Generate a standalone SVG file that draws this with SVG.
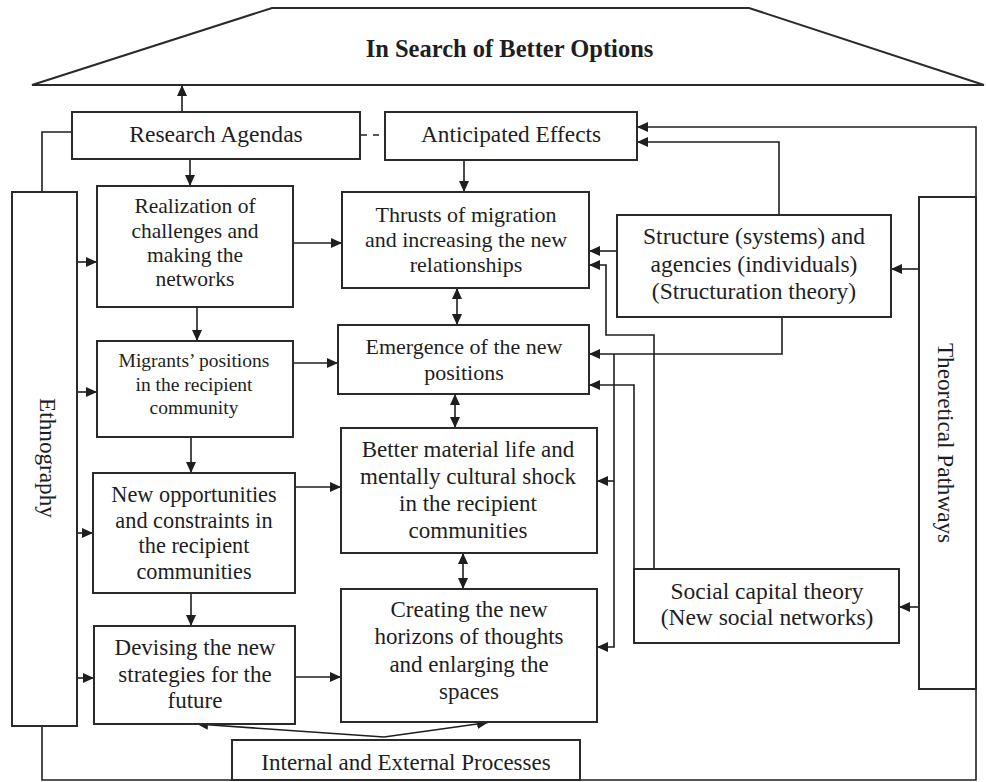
<svg xmlns="http://www.w3.org/2000/svg" width="986" height="782" viewBox="0 0 986 782">
<style>
.box{fill:#fff;stroke:#2a2a2a;stroke-width:2}
.t{font-family:"Liberation Serif","Times New Roman",serif;fill:#1e1e1e;text-anchor:middle}
.c{fill:none;stroke:#1e1e1e;stroke-width:1.6}
.a{marker-end:url(#ah)}
.d{marker-start:url(#ah);marker-end:url(#ah)}
</style>
<defs>
<marker id="ah" viewBox="0 0 11 10" refX="11" refY="5" markerWidth="11" markerHeight="10" markerUnits="userSpaceOnUse" orient="auto-start-reverse">
<path d="M0,0 L11,5 L0,10 z" fill="#1e1e1e"/>
</marker>
</defs>
<rect width="986" height="782" fill="#fff"/>

<g id="connectors">
<path class="c a" d="M182,112 V85"/>
<path class="c a" d="M190,159 V186"/>
<path class="c" d="M361,135 H385" stroke-dasharray="6 6"/>
<path class="c" d="M72,132 H42 V192"/>
<path class="c a" d="M464,160 V192"/>
<path class="c a" d="M42,726 V780 H976 V127 H637"/>
<path class="c a" d="M779,215 V142 H637"/>
<path class="c a" d="M919,269 H891"/>
<path class="c a" d="M919,607 H899"/>
<path class="c a" d="M617,251 H589"/>
<path class="c a" d="M654,569 V335 H606 V265 H589"/>
<path class="c a" d="M782,317 V354 H589"/>
<path class="c a" d="M614,354 V647 H597"/>
<path class="c a" d="M614,481 H597"/>
<path class="c a" d="M634,569 V385 H589"/>
<path class="c a" d="M77,262 H97"/>
<path class="c a" d="M77,392 H97"/>
<path class="c a" d="M77,533 H93"/>
<path class="c a" d="M77,678 H94"/>
<path class="c a" d="M293,243 H342"/>
<path class="c a" d="M293,363 H338"/>
<path class="c a" d="M295,487 H341"/>
<path class="c a" d="M295,677 H341"/>
<path class="c a" d="M197,307 V341"/>
<path class="c a" d="M191,437 V473"/>
<path class="c a" d="M191,593 V626"/>
<path class="c d" d="M457,288 V325"/>
<path class="c d" d="M455,394 V428"/>
<path class="c d" d="M463,553 V589"/>
<path class="c a" d="M384,737 L197,724"/>
<path class="c a" d="M384,737 L488,722.5"/>
</g>

<g id="title">
<polygon class="box" points="272,8 749,8 984,85 32,85"/>
<text class="t" x="509.5" y="57" font-size="24.5" font-weight="bold">In Search of Better Options</text>
</g>

<g id="research">
<rect class="box" x="72" y="112" width="288" height="47"/>
<text class="t" x="216" y="142" font-size="23.6">Research Agendas</text>
</g>

<g id="anticipated">
<rect class="box" x="385" y="112" width="252" height="48"/>
<text class="t" x="511" y="142" font-size="23.3">Anticipated Effects</text>
</g>

<g id="ethnography">
<rect class="box" x="12" y="192" width="65" height="534"/>
<text class="t" transform="translate(40,458) rotate(90)" font-size="23.2">Ethnography</text>
</g>

<g id="theoretical">
<rect class="box" x="919" y="197" width="57" height="492"/>
<text class="t" transform="translate(938,443) rotate(90)" font-size="23.2">Theoretical Pathways</text>
</g>

<g id="realization">
<rect class="box" x="97" y="186" width="196" height="121"/>
<text class="t" font-size="21.5"><tspan x="195" y="213">Realization of</tspan><tspan x="195" y="237.5">challenges and</tspan><tspan x="195" y="262">making the</tspan><tspan x="195" y="286">networks</tspan></text>
</g>

<g id="migrants">
<rect class="box" x="97" y="341" width="196" height="96"/>
<text class="t" font-size="19.5"><tspan x="194" y="367">Migrants’ positions</tspan><tspan x="194" y="391">in the recipient</tspan><tspan x="194" y="414">community</tspan></text>
</g>

<g id="opportunities">
<rect class="box" x="93" y="473" width="202" height="120"/>
<text class="t" font-size="22.3"><tspan x="194" y="502">New opportunities</tspan><tspan x="194" y="527.5">and constraints in</tspan><tspan x="194" y="553">the recipient</tspan><tspan x="194" y="578.5">communities</tspan></text>
</g>

<g id="devising">
<rect class="box" x="94" y="626" width="201" height="98"/>
<text class="t" font-size="23"><tspan x="195" y="655">Devising the new</tspan><tspan x="195" y="681.5">strategies for the</tspan><tspan x="195" y="708">future</tspan></text>
</g>

<g id="thrusts">
<rect class="box" x="342" y="192" width="247" height="96"/>
<text class="t" font-size="22"><tspan x="466" y="222">Thrusts of migration</tspan><tspan x="466" y="247">and increasing the new</tspan><tspan x="466" y="272">relationships</tspan></text>
</g>

<g id="emergence">
<rect class="box" x="338" y="325" width="251" height="69"/>
<text class="t" font-size="22"><tspan x="464" y="354">Emergence of the new</tspan><tspan x="464" y="380">positions</tspan></text>
</g>

<g id="better">
<rect class="box" x="341" y="428" width="256" height="125"/>
<text class="t" font-size="23"><tspan x="468" y="457">Better material life and</tspan><tspan x="468" y="484">mentally cultural shock</tspan><tspan x="468" y="511">in the recipient</tspan><tspan x="468" y="537.5">communities</tspan></text>
</g>

<g id="creating">
<rect class="box" x="341" y="589" width="256" height="133"/>
<text class="t" font-size="23"><tspan x="469" y="617">Creating the new</tspan><tspan x="469" y="644">horizons of thoughts</tspan><tspan x="469" y="671.5">and enlarging the</tspan><tspan x="469" y="698.5">spaces</tspan></text>
</g>

<g id="structure">
<rect class="box" x="617" y="215" width="274" height="102"/>
<text class="t" font-size="23.5"><tspan x="754" y="244">Structure (systems) and</tspan><tspan x="754" y="271.5">agencies (individuals)</tspan><tspan x="754" y="298.5">(Structuration theory)</tspan></text>
</g>

<g id="social">
<rect class="box" x="634" y="569" width="265" height="74"/>
<text class="t" font-size="23.5"><tspan x="767" y="598.5">Social capital theory</tspan><tspan x="767" y="625">(New social networks)</tspan></text>
</g>

<g id="processes">
<rect class="box" x="232" y="740" width="348" height="40"/>
<text class="t" x="406" y="770" font-size="23">Internal and External Processes</text>
</g>
</svg>
